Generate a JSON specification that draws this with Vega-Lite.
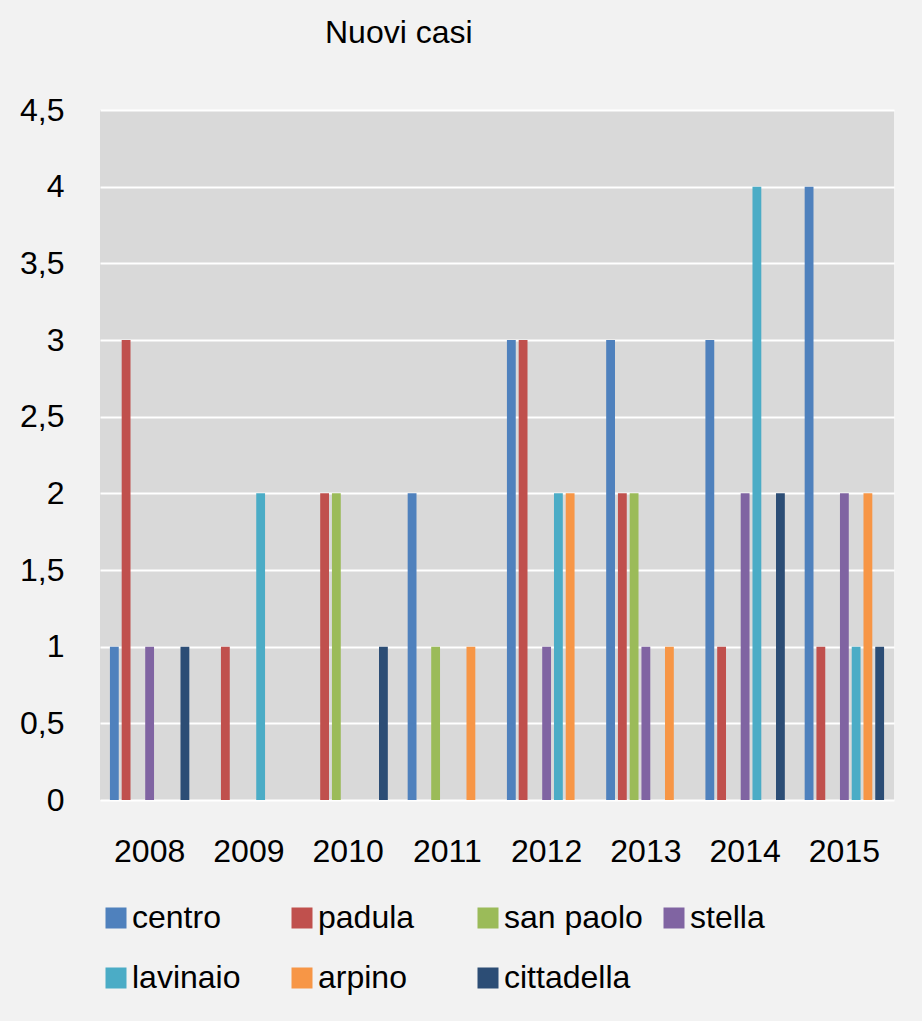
{
  "$schema": "https://vega.github.io/schema/vega-lite/v6.json",
  "width": 794,
  "height": 690,
  "autosize": {"type": "none"},
  "padding": {"left": 100, "top": 110, "right": 28, "bottom": 221},
  "background": "#F2F2F2",
  "title": {
    "text": "Nuovi casi",
    "anchor": "start",
    "frame": "group",
    "dx": 225,
    "offset": 44,
    "fontSize": 32,
    "font": "Liberation Sans",
    "fontWeight": "normal",
    "color": "#000000"
  },
  "data": {
    "values": [
      {"anno": "2008", "zona": "centro", "casi": 1},
      {"anno": "2008", "zona": "padula", "casi": 3},
      {"anno": "2008", "zona": "san paolo", "casi": 0},
      {"anno": "2008", "zona": "stella", "casi": 1},
      {"anno": "2008", "zona": "lavinaio", "casi": 0},
      {"anno": "2008", "zona": "arpino", "casi": 0},
      {"anno": "2008", "zona": "cittadella", "casi": 1},
      {"anno": "2009", "zona": "centro", "casi": 0},
      {"anno": "2009", "zona": "padula", "casi": 1},
      {"anno": "2009", "zona": "san paolo", "casi": 0},
      {"anno": "2009", "zona": "stella", "casi": 0},
      {"anno": "2009", "zona": "lavinaio", "casi": 2},
      {"anno": "2009", "zona": "arpino", "casi": 0},
      {"anno": "2009", "zona": "cittadella", "casi": 0},
      {"anno": "2010", "zona": "centro", "casi": 0},
      {"anno": "2010", "zona": "padula", "casi": 2},
      {"anno": "2010", "zona": "san paolo", "casi": 2},
      {"anno": "2010", "zona": "stella", "casi": 0},
      {"anno": "2010", "zona": "lavinaio", "casi": 0},
      {"anno": "2010", "zona": "arpino", "casi": 0},
      {"anno": "2010", "zona": "cittadella", "casi": 1},
      {"anno": "2011", "zona": "centro", "casi": 2},
      {"anno": "2011", "zona": "padula", "casi": 0},
      {"anno": "2011", "zona": "san paolo", "casi": 1},
      {"anno": "2011", "zona": "stella", "casi": 0},
      {"anno": "2011", "zona": "lavinaio", "casi": 0},
      {"anno": "2011", "zona": "arpino", "casi": 1},
      {"anno": "2011", "zona": "cittadella", "casi": 0},
      {"anno": "2012", "zona": "centro", "casi": 3},
      {"anno": "2012", "zona": "padula", "casi": 3},
      {"anno": "2012", "zona": "san paolo", "casi": 0},
      {"anno": "2012", "zona": "stella", "casi": 1},
      {"anno": "2012", "zona": "lavinaio", "casi": 2},
      {"anno": "2012", "zona": "arpino", "casi": 2},
      {"anno": "2012", "zona": "cittadella", "casi": 0},
      {"anno": "2013", "zona": "centro", "casi": 3},
      {"anno": "2013", "zona": "padula", "casi": 2},
      {"anno": "2013", "zona": "san paolo", "casi": 2},
      {"anno": "2013", "zona": "stella", "casi": 1},
      {"anno": "2013", "zona": "lavinaio", "casi": 0},
      {"anno": "2013", "zona": "arpino", "casi": 1},
      {"anno": "2013", "zona": "cittadella", "casi": 0},
      {"anno": "2014", "zona": "centro", "casi": 3},
      {"anno": "2014", "zona": "padula", "casi": 1},
      {"anno": "2014", "zona": "san paolo", "casi": 0},
      {"anno": "2014", "zona": "stella", "casi": 2},
      {"anno": "2014", "zona": "lavinaio", "casi": 4},
      {"anno": "2014", "zona": "arpino", "casi": 0},
      {"anno": "2014", "zona": "cittadella", "casi": 2},
      {"anno": "2015", "zona": "centro", "casi": 4},
      {"anno": "2015", "zona": "padula", "casi": 1},
      {"anno": "2015", "zona": "san paolo", "casi": 0},
      {"anno": "2015", "zona": "stella", "casi": 2},
      {"anno": "2015", "zona": "lavinaio", "casi": 1},
      {"anno": "2015", "zona": "arpino", "casi": 2},
      {"anno": "2015", "zona": "cittadella", "casi": 1}
    ]
  },
  "mark": {"type": "bar"},
  "encoding": {
    "x": {
      "field": "anno",
      "type": "nominal",
      "scale": {"paddingInner": 0.2, "paddingOuter": 0.1},
      "axis": {
        "title": null,
        "labelAngle": 0,
        "ticks": false,
        "tickSize": 0,
        "domain": false,
        "grid": false,
        "labelPadding": 36,
        "labelBaseline": "top",
        "labelFontSize": 32,
        "labelFont": "Liberation Sans",
        "labelColor": "#000000"
      }
    },
    "xOffset": {
      "field": "zona",
      "type": "nominal",
      "sort": ["centro", "padula", "san paolo", "stella", "lavinaio", "arpino", "cittadella"],
      "scale": {"paddingInner": 0.25, "paddingOuter": 0}
    },
    "y": {
      "field": "casi",
      "type": "quantitative",
      "scale": {"domain": [0, 4.5], "nice": false, "zero": true},
      "axis": {
        "title": null,
        "values": [0, 0.5, 1, 1.5, 2, 2.5, 3, 3.5, 4, 4.5],
        "labelExpr": "replace(format(datum.value, '~g'), '.', ',')",
        "ticks": false,
        "tickSize": 0,
        "domain": false,
        "grid": true,
        "gridColor": "#FFFFFF",
        "gridWidth": 2,
        "gridOpacity": 1,
        "labelPadding": 36,
        "labelFontSize": 32,
        "labelFont": "Liberation Sans",
        "labelColor": "#000000"
      }
    },
    "color": {
      "field": "zona",
      "type": "nominal",
      "scale": {
        "domain": ["centro", "padula", "san paolo", "stella", "lavinaio", "arpino", "cittadella"],
        "range": ["#4F81BD", "#C0504D", "#9BBB59", "#8064A2", "#4BACC6", "#F79646", "#2C4D75"]
      },
      "legend": {
        "title": null,
        "orient": "none",
        "legendX": 0,
        "legendY": 792,
        "direction": "horizontal",
        "columns": 4,
        "symbolType": "square",
        "symbolSize": 441,
        "symbolStrokeWidth": 0,
        "symbolOpacity": 1,
        "labelFontSize": 32,
        "labelFont": "Liberation Sans",
        "labelColor": "#000000",
        "labelOffset": 0,
        "labelLimit": 400,
        "columnPadding": 15,
        "rowPadding": 28,
        "gridAlign": "all",
        "padding": 0
      }
    }
  },
  "config": {
    "view": {"fill": "#D9D9D9", "stroke": null}
  }
}
